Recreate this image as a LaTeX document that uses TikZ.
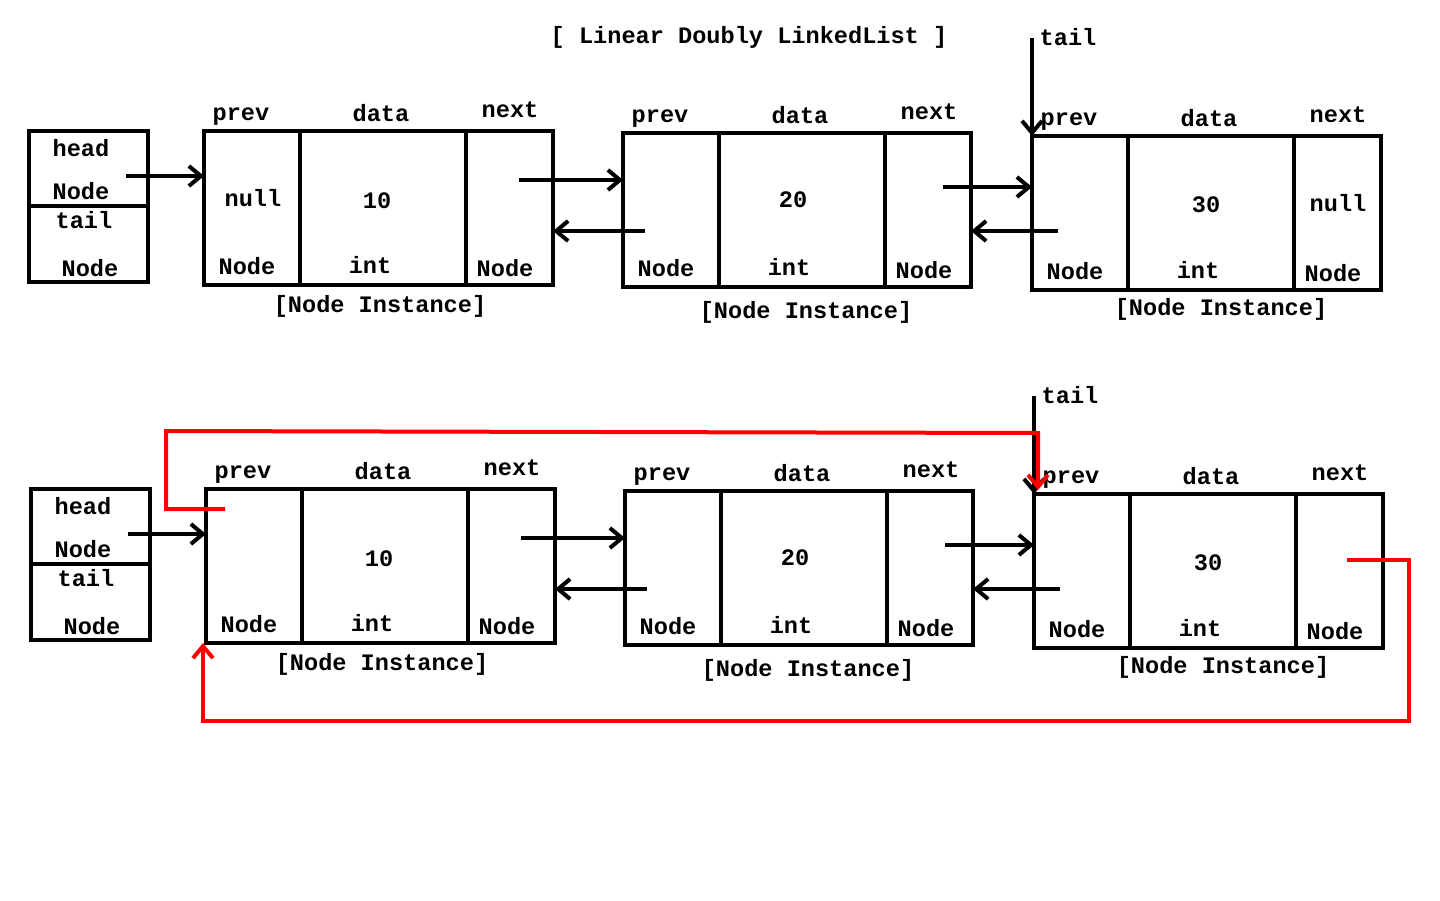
\documentclass[tikz,border=0pt]{standalone}
\usepackage{fontspec}
\setmonofont{Liberation Mono}
\usetikzlibrary{arrows.meta}
\tikzset{
  cell/.style={draw=black, line width=4pt, inner sep=0pt, outer sep=0pt, anchor=north west},
  lbl/.style={font=\ttfamily\bfseries\fontsize{23.6}{28}\selectfont, inner sep=0pt, outer sep=0pt, anchor=base, yshift=-2pt},
  arr/.style={draw=black, line width=4pt, -{Straight Barb[length=12pt,width=20pt,line width=4pt]}},
  redarr/.style={draw=red, line width=4pt, line join=miter, -{Straight Barb[length=12pt,width=20pt,line width=4pt]}},
}
% #1 = prefix, #2 = text in first prev cell, #3 = text in last next cell
\newcommand\listrow[3]{%
  % head / tail box
  \node[cell, minimum width=119pt, minimum height=75pt] (#1hh) at (29,131) {};
  \node[cell, minimum width=119pt, minimum height=76pt] (#1ht) at (29,206) {};
  % node 1
  \node[cell, minimum width=96pt,  minimum height=154pt] (#1p1) at (204,131) {};
  \node[cell, minimum width=166pt, minimum height=154pt] (#1d1) at (300,131) {};
  \node[cell, minimum width=87pt,  minimum height=154pt] (#1x1) at (466,131) {};
  % node 2
  \node[cell, minimum width=96pt,  minimum height=154pt] (#1p2) at (623,133) {};
  \node[cell, minimum width=166pt, minimum height=154pt] (#1d2) at (719,133) {};
  \node[cell, minimum width=86pt,  minimum height=154pt] (#1x2) at (885,133) {};
  % node 3
  \node[cell, minimum width=96pt,  minimum height=154pt] (#1p3) at (1032,136) {};
  \node[cell, minimum width=166pt, minimum height=154pt] (#1d3) at (1128,136) {};
  \node[cell, minimum width=87pt,  minimum height=154pt] (#1x3) at (1294,136) {};
  % head box texts
  \node[lbl] (#1tha) at (81,154.5) {head};
  \node[lbl] (#1thb) at (81,197.5) {Node};
  \node[lbl] (#1tta) at (84,226.5) {tail};
  \node[lbl] (#1ttb) at (90,274.5) {Node};
  % node 1 texts
  \node[lbl] (#1l1a) at (241,118) {prev};
  \node[lbl] (#1l1b) at (381,119) {data};
  \node[lbl] (#1l1c) at (510,115) {next};
  \node[lbl] (#1v1a) at (253,204.5) {#2};
  \node[lbl] (#1v1b) at (377,206.5) {10};
  \node[lbl] (#1y1a) at (247,272.5) {Node};
  \node[lbl] (#1y1b) at (370,271.5) {int};
  \node[lbl] (#1y1c) at (505,274.5) {Node};
  \node[lbl] (#1i1) at (380,310.5) {[Node Instance]};
  % node 2 texts
  \node[lbl] (#1l2a) at (660,120) {prev};
  \node[lbl] (#1l2b) at (800,121) {data};
  \node[lbl] (#1l2c) at (929,117) {next};
  \node[lbl] (#1v2b) at (793,205.5) {20};
  \node[lbl] (#1y2a) at (666,274.5) {Node};
  \node[lbl] (#1y2b) at (789,273.5) {int};
  \node[lbl] (#1y2c) at (924,276.5) {Node};
  \node[lbl] (#1i2) at (806,316.5) {[Node Instance]};
  % node 3 texts
  \node[lbl] (#1l3a) at (1069,123) {prev};
  \node[lbl] (#1l3b) at (1209,124.5) {data};
  \node[lbl] (#1l3c) at (1338,120) {next};
  \node[lbl] (#1v3b) at (1206,210.5) {30};
  \node[lbl] (#1v3c) at (1338,209.5) {#3};
  \node[lbl] (#1y3a) at (1075,277.5) {Node};
  \node[lbl] (#1y3b) at (1198,276.5) {int};
  \node[lbl] (#1y3c) at (1333,279.5) {Node};
  \node[lbl] (#1i3) at (1221,313.5) {[Node Instance]};
  % tail label
  \node[lbl] (#1tl) at (1068,43.5) {tail};
  % connectors
  \coordinate (#1hs) at (126,176);
  \draw[arr] (#1hs) -- (#1hs -| #1p1.west);
  \coordinate (#1s12) at (519,180);
  \draw[arr] (#1s12) -- (#1s12 -| #1p2.west);
  \coordinate (#1s21) at (645,231);
  \draw[arr] (#1s21) -- (#1s21 -| #1x1.east);
  \coordinate (#1s23) at (943,187);
  \draw[arr] (#1s23) -- (#1s23 -| #1p3.west);
  \coordinate (#1s32) at (1058,231);
  \draw[arr] (#1s32) -- (#1s32 -| #1x2.east);
  \coordinate (#1ts) at (1032,38);
  \draw[arr] (#1ts) -- (#1p3.north west);
}
\begin{document}
\begin{tikzpicture}[x=1pt, y=-1pt]
  \fill[white] (0,0) rectangle (1440,900);
  \useasboundingbox (0,0) rectangle (1440,900);
  \node[lbl] (title) at (749,41.5) {[ Linear Doubly LinkedList ]};
  \begin{scope}
    \listrow{T}{null}{null}
  \end{scope}
  \begin{scope}[shift={(2,358)}]
    \listrow{B}{}{}
  \end{scope}
  % red links of the circular list
  \coordinate (r1s) at (225,509);
  \coordinate (r1e) at (1038,490);
  \draw[redarr] (r1s) -- (166,509) -- (166,431) -- (1038,433) -- (r1e);
  \coordinate (r2s) at (1347,560);
  \coordinate (r2e) at (203,643);
  \draw[redarr] (r2s) -- (1409,560) -- (1409,721) -- (203,721) -- (r2e);
\end{tikzpicture}
\end{document}
